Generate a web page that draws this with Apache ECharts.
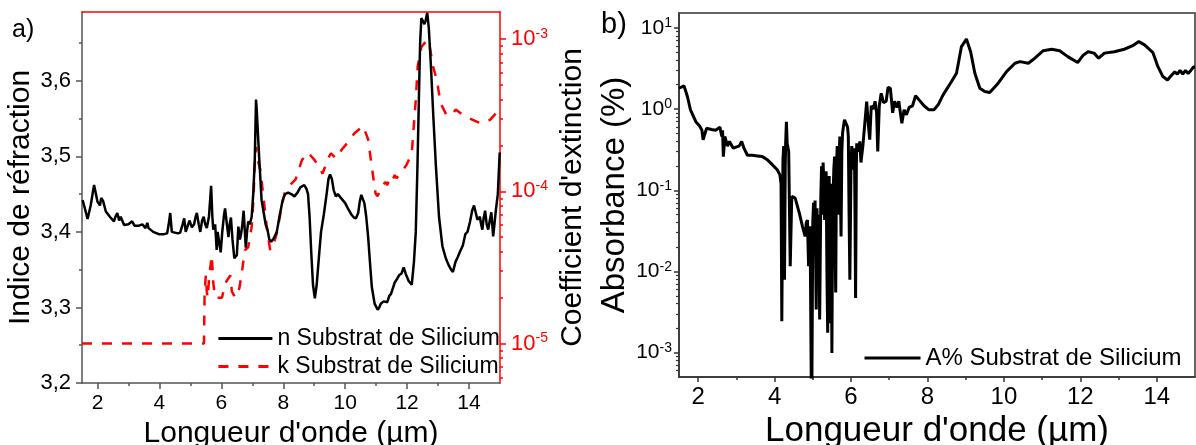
<!DOCTYPE html>
<html><head><meta charset="utf-8">
<script src="https://cdn.jsdelivr.net/npm/echarts@6/dist/echarts.min.js"></script>
<style>html,body{margin:0;padding:0;background:#fff}#c{width:1196px;height:445px}</style>
</head><body><div id="c"></div>
<script>
// ---- tick values and labels ----
const wavelengthTicks = [2, 4, 6, 8, 10, 12, 14];
const wavelengthMinorTicks = [3, 5, 7, 9, 11, 13];
const nTicks = [3.2, 3.3, 3.4, 3.5, 3.6];
const nTickLabels = ['3,2', '3,3', '3,4', '3,5', '3,6'];
const nMinorTicks = [3.25, 3.35, 3.45, 3.55, 3.65];
const kTicks = [1e-5, 1e-4, 1e-3];
const kTickExponents = ['-5', '-4', '-3'];
const aTicks = [1e-3, 1e-2, 1e-1, 1, 10];
const aTickExponents = ['-3', '-2', '-1', '0', '1'];

// ---- series names ----
const nName = 'n Substrat de Silicium';
const kName = 'k Substrat de Silicium';
const aName = 'A% Substrat de Silicium';

// ---- data: [wavelength (µm), value] ----
const nData = [[1.52,3.442],[1.60,3.43],[1.68,3.417],[1.78,3.435],[1.89,3.462],[1.95,3.45],[2.0,3.440],[2.08,3.435],[2.12,3.445],[2.18,3.441],[2.27,3.427],[2.4,3.42],[2.53,3.414],[2.58,3.42],[2.64,3.425],[2.7,3.415],[2.75,3.42],[2.86,3.409],[3.0,3.41],[3.12,3.414],[3.2,3.408],[3.32,3.408],[3.45,3.41],[3.55,3.405],[3.61,3.412],[3.65,3.405],[3.8,3.40],[3.98,3.397],[4.15,3.397],[4.25,3.398],[4.30,3.41],[4.35,3.425],[4.40,3.40],[4.46,3.398],[4.6,3.398],[4.67,3.399],[4.75,3.41],[4.80,3.418],[4.85,3.40],[4.89,3.398],[4.97,3.415],[5.05,3.406],[5.12,3.41],[5.17,3.42],[5.21,3.425],[5.27,3.41],[5.32,3.40],[5.38,3.415],[5.43,3.42],[5.48,3.41],[5.53,3.405],[5.6,3.42],[5.67,3.461],[5.71,3.42],[5.74,3.403],[5.80,3.41],[5.85,3.376],[5.88,3.40],[5.92,3.389],[5.98,3.373],[6.03,3.40],[6.08,3.42],[6.12,3.431],[6.18,3.41],[6.23,3.393],[6.27,3.41],[6.31,3.419],[6.36,3.39],[6.42,3.365],[6.5,3.369],[6.55,3.407],[6.6,3.39],[6.64,3.398],[6.68,3.41],[6.72,3.428],[6.76,3.40],[6.79,3.379],[6.83,3.40],[6.87,3.414],[6.92,3.41],[6.98,3.42],[7.03,3.45],[7.08,3.495],[7.12,3.575],[7.14,3.564],[7.17,3.565],[7.22,3.50],[7.30,3.442],[7.37,3.425],[7.43,3.41],[7.49,3.403],[7.55,3.39],[7.61,3.387],[7.7,3.392],[7.79,3.40],[7.9,3.425],[7.98,3.442],[8.06,3.45],[8.16,3.452],[8.26,3.45],[8.36,3.447],[8.46,3.452],[8.55,3.459],[8.68,3.462],[8.75,3.457],[8.8,3.45],[8.85,3.42],[8.9,3.376],[8.96,3.33],[9.02,3.312],[9.08,3.33],[9.15,3.366],[9.22,3.40],[9.31,3.423],[9.4,3.45],[9.46,3.47],[9.51,3.476],[9.57,3.47],[9.63,3.455],[9.7,3.447],[9.76,3.45],[9.82,3.448],[9.9,3.443],[10.0,3.438],[10.1,3.43],[10.2,3.423],[10.28,3.419],[10.35,3.418],[10.42,3.425],[10.47,3.44],[10.52,3.449],[10.57,3.447],[10.62,3.438],[10.68,3.42],[10.74,3.394],[10.8,3.36],[10.86,3.327],[10.95,3.305],[11.05,3.297],[11.1,3.30],[11.15,3.305],[11.2,3.303],[11.24,3.308],[11.3,3.31],[11.36,3.307],[11.42,3.315],[11.48,3.318],[11.52,3.316],[11.6,3.333],[11.68,3.338],[11.75,3.343],[11.82,3.345],[11.89,3.353],[11.95,3.345],[12.05,3.335],[12.15,3.33],[12.22,3.36],[12.28,3.40],[12.33,3.48],[12.38,3.575],[12.42,3.65],[12.46,3.683],[12.51,3.682],[12.56,3.675],[12.6,3.68],[12.65,3.69],[12.7,3.67],[12.77,3.619],[12.85,3.55],[12.93,3.487],[13.03,3.42],[13.14,3.381],[13.25,3.365],[13.33,3.357],[13.42,3.35],[13.48,3.347],[13.56,3.36],[13.64,3.367],[13.72,3.375],[13.8,3.382],[13.88,3.397],[13.95,3.40],[14.03,3.413],[14.1,3.428],[14.16,3.435],[14.22,3.425],[14.27,3.416],[14.31,3.418],[14.35,3.42],[14.39,3.41],[14.43,3.403],[14.47,3.418],[14.52,3.428],[14.57,3.41],[14.62,3.403],[14.67,3.415],[14.72,3.426],[14.75,3.41],[14.78,3.394],[14.82,3.41],[14.87,3.43],[14.93,3.45],[14.99,3.505]];

const kData = [[1.5,1e-5],[5.44,1e-5],[5.46,2.2e-5],[5.5,2.8e-5],[5.53,2.2e-5],[5.56,2.0e-5],[5.6,2.6e-5],[5.64,3.1e-5],[5.69,3.8e-5],[5.72,3.0e-5],[5.74,2.5e-5],[5.8,2.0e-5],[6.02,2.0e-5],[6.13,2.5e-5],[6.29,2.8e-5],[6.34,2.2e-5],[6.45,2.0e-5],[6.58,2.3e-5],[6.66,2.9e-5],[6.76,4.1e-5],[6.87,4.3e-5],[6.98,5.85e-5],[7.04,9e-5],[7.08,1.53e-4],[7.12,1.96e-4],[7.18,1.6e-4],[7.26,1.38e-4],[7.37,8.8e-5],[7.49,5.3e-5],[7.58,4.1e-5],[7.66,4.3e-5],[7.79,5.3e-5],[7.91,7.2e-5],[8.04,9.7e-5],[8.22,1.1e-4],[8.4,1.2e-4],[8.6,1.6e-4],[8.8,1.8e-4],[9.02,1.6e-4],[9.27,1.31e-4],[9.45,1.65e-4],[9.54,1.78e-4],[9.7,1.65e-4],[9.88,1.87e-4],[10.06,2.07e-4],[10.3,2.41e-4],[10.58,2.69e-4],[10.74,2.2e-4],[10.86,1.45e-4],[10.98,9.7e-5],[11.05,9.3e-5],[11.17,1.07e-4],[11.3,1.15e-4],[11.36,1.1e-4],[11.42,1.2e-4],[11.5,1.15e-4],[11.6,1.28e-4],[11.66,1.22e-4],[11.76,1.3e-4],[11.98,1.49e-4],[12.15,1.78e-4],[12.28,4.0e-4],[12.34,6.6e-4],[12.42,8.1e-4],[12.46,8.9e-4],[12.65,9.9e-4],[12.72,9.2e-4],[12.84,6.6e-4],[12.96,5.4e-4],[13.08,3.8e-4],[13.27,3.18e-4],[13.45,3.18e-4],[13.57,3.45e-4],[13.8,3.18e-4],[14.12,2.95e-4],[14.37,2.8e-4],[14.68,2.95e-4],[14.87,3.26e-4],[15.0,3.3e-4]];

const aData = [[1.5,1.81],[1.63,1.94],[1.72,1.43],[1.8,0.98],[1.94,0.70],[2.04,0.62],[2.1,0.55],[2.13,0.42],[2.18,0.5],[2.22,0.58],[2.35,0.56],[2.46,0.55],[2.57,0.6],[2.62,0.46],[2.64,0.55],[2.66,0.26],[2.7,0.46],[2.77,0.35],[2.82,0.4],[2.86,0.38],[2.92,0.33],[2.99,0.34],[3.07,0.35],[3.14,0.40],[3.2,0.33],[3.29,0.27],[3.42,0.27],[3.55,0.265],[3.68,0.26],[3.8,0.24],[3.9,0.216],[4.07,0.179],[4.14,0.155],[4.17,0.12],[4.19,0.00243],[4.22,0.24],[4.24,0.35],[4.26,0.0079],[4.28,0.2],[4.29,0.38],[4.31,0.70],[4.33,0.38],[4.35,0.4],[4.37,0.3],[4.41,0.0116],[4.45,0.084],[4.54,0.08],[4.65,0.052],[4.73,0.036],[4.8,0.027],[4.83,0.04],[4.86,0.043],[4.89,0.0116],[4.93,0.036],[4.97,0.0001],[5.0,0.04],[5.02,0.070],[5.04,0.02],[5.06,0.075],[5.09,0.0034],[5.11,0.06],[5.14,0.017],[5.16,0.05],[5.18,0.00255],[5.21,0.08],[5.23,0.197],[5.25,0.05],[5.27,0.22],[5.29,0.12],[5.31,0.043],[5.33,0.16],[5.35,0.17],[5.37,0.01],[5.39,0.00175],[5.41,0.1],[5.43,0.15],[5.445,0.01],[5.46,0.0023],[5.48,0.12],[5.5,0.00099],[5.515,0.02],[5.53,0.08],[5.55,0.18],[5.57,0.26],[5.585,0.02],[5.6,0.0055],[5.62,0.2],[5.64,0.35],[5.655,0.05],[5.67,0.15],[5.69,0.3],[5.71,0.46],[5.725,0.08],[5.74,0.027],[5.76,0.3],[5.78,0.51],[5.8,0.6],[5.83,0.74],[5.86,0.7],[5.88,0.78],[5.91,0.6],[5.93,0.46],[5.95,0.05],[5.97,0.0079],[6.0,0.2],[6.02,0.35],[6.06,0.18],[6.09,0.33],[6.105,0.05],[6.12,0.0047],[6.14,0.2],[6.15,0.38],[6.2,0.30],[6.23,0.4],[6.26,0.22],[6.31,0.35],[6.37,0.74],[6.41,1.24],[6.46,0.6],[6.49,0.42],[6.53,1.1],[6.58,1.0],[6.63,1.25],[6.67,0.9],[6.7,0.30],[6.74,1.1],[6.79,1.57],[6.85,1.2],[6.92,1.25],[6.97,1.86],[7.03,1.8],[7.09,0.9],[7.14,1.25],[7.2,1.05],[7.25,1.25],[7.33,0.67],[7.39,0.98],[7.45,0.85],[7.52,1.05],[7.61,1.1],[7.69,1.46],[7.78,1.3],[7.91,1.1],[8.04,0.98],[8.17,0.98],[8.28,1.13],[8.41,1.5],[8.63,2.19],[8.76,2.77],[8.89,5.9],[9.02,7.3],[9.13,5.1],[9.24,2.77],[9.37,1.81],[9.5,1.65],[9.63,1.60],[9.85,2.09],[10.07,2.9],[10.29,3.68],[10.42,3.85],[10.64,3.68],[10.81,4.24],[11.03,5.25],[11.25,5.47],[11.46,5.25],[11.67,4.44],[11.93,3.75],[12.07,4.6],[12.2,5.1],[12.36,4.9],[12.48,4.24],[12.63,4.9],[12.89,5.1],[13.15,5.47],[13.37,6.06],[13.53,6.8],[13.68,6.2],[13.9,4.97],[14.03,3.34],[14.16,2.52],[14.28,2.29],[14.38,2.6],[14.47,2.88],[14.54,2.7],[14.61,3.0],[14.68,2.7],[14.75,3.0],[14.82,2.75],[14.89,3.0],[14.96,3.3],[15.0,3.3]];

// minor ticks for log axes (2..9 x 10^n)
function logMinor(lo, hi) {
  const out = [];
  for (let e = -7; e <= 2; e++) for (let m = 2; m <= 9; m++) {
    const v = m * Math.pow(10, e);
    if (v > lo && v < hi) out.push(v);
  }
  return out;
}

const FONT = 'Liberation Sans, Arial, sans-serif';
const GRAY = '#555';
const RED = '#ff0000';

const kMin = 5.5e-6, kMax = 1.51e-3;
const aMin = 5e-4, aMax = 15.3;

function powLabel(ticks, exps) {
  return function (v) {
    const i = ticks.findIndex(t => Math.abs(Math.log10(t) - Math.log10(v)) < 1e-6);
    return i < 0 ? '' : '{b|10}{s|' + exps[i] + '}';
  };
}
function richSup(size, color) {
  return {
    b: { fontSize: size, color: color, fontFamily: FONT, lineHeight: size + 2 },
    s: { fontSize: Math.round(size * 0.65), color: color, fontFamily: FONT, verticalAlign: 'top', lineHeight: Math.round(size * 0.65) }
  };
}
function minorAxis(base) {
  return Object.assign({
    axisLine: { show: false },
    axisLabel: { show: false },
    splitLine: { show: false },
    name: ''
  }, base);
}

const chart = echarts.init(document.getElementById('c'), null, { renderer: 'canvas' });
chart.setOption({
  animation: false,
  backgroundColor: '#fff',
  textStyle: { fontFamily: FONT },
  grid: [
    { left: 82, top: 12, width: 418, height: 371, containLabel: false, outerBoundsMode: 'none' },
    { left: 679, top: 13, width: 516, height: 364, show: true, borderColor: '#333', borderWidth: 1.5, containLabel: false, outerBoundsMode: 'none' }
  ],
  xAxis: [
    { gridIndex: 0, type: 'value', min: 1.5, max: 15, position: 'bottom',
      axisLine: { lineStyle: { color: GRAY, width: 1.5 } },
      axisTick: { customValues: wavelengthTicks, length: 6, lineStyle: { color: GRAY, width: 1.5 } },
      axisLabel: { customValues: wavelengthTicks, fontSize: 21, color: '#000', margin: 10, fontFamily: FONT },
      splitLine: { show: false },
      name: "Longueur d'onde (µm)", nameLocation: 'middle', nameGap: 33,
      nameTextStyle: { fontSize: 30, color: '#000', fontFamily: FONT } },
    minorAxis({ gridIndex: 0, type: 'value', min: 1.5, max: 15, position: 'bottom',
      axisTick: { customValues: wavelengthMinorTicks, length: 3, lineStyle: { color: GRAY, width: 1.5 } } }),
    { gridIndex: 1, type: 'value', min: 1.5, max: 15, position: 'bottom',
      axisLine: { lineStyle: { color: '#333', width: 1.5 } },
      axisTick: { customValues: wavelengthTicks, length: 5, lineStyle: { color: '#333', width: 1.5 } },
      axisLabel: { customValues: wavelengthTicks, fontSize: 24, color: '#000', margin: 8, fontFamily: FONT },
      splitLine: { show: false },
      name: "Longueur d'onde (µm)", nameLocation: 'middle', nameGap: 30,
      nameTextStyle: { fontSize: 35, color: '#000', fontFamily: FONT } },
    minorAxis({ gridIndex: 1, type: 'value', min: 1.5, max: 15, position: 'bottom',
      axisTick: { customValues: wavelengthMinorTicks, length: 3, lineStyle: { color: '#333', width: 1.5 } } }),
    { gridIndex: 0, type: 'value', min: 1.5, max: 15, position: 'top',
      axisLine: { show: true, lineStyle: { color: RED, width: 1.5 } },
      axisTick: { show: false }, axisLabel: { show: false }, splitLine: { show: false } }
  ],
  yAxis: [
    { gridIndex: 0, type: 'value', min: 3.2, max: 3.691, position: 'left',
      axisLine: { show: true, lineStyle: { color: GRAY, width: 1.5 } },
      axisTick: { show: true, customValues: nTicks, length: 6, lineStyle: { color: GRAY, width: 1.5 } },
      axisLabel: { customValues: nTicks, fontSize: 22, color: '#000', margin: 11, fontFamily: FONT,
        formatter: v => { const i = nTicks.findIndex(t => Math.abs(t - v) < 1e-9); return i < 0 ? '' : nTickLabels[i]; } },
      splitLine: { show: false },
      name: 'Indice de réfraction', nameLocation: 'middle', nameGap: 46,
      nameTextStyle: { fontSize: 30, color: '#000', fontFamily: FONT } },
    minorAxis({ gridIndex: 0, type: 'value', min: 3.2, max: 3.691, position: 'left',
      axisTick: { show: true, customValues: nMinorTicks, length: 3, lineStyle: { color: GRAY, width: 1.5 } } }),
    { gridIndex: 0, type: 'log', min: kMin, max: kMax, position: 'right',
      axisLine: { show: true, lineStyle: { color: RED, width: 1.5 } },
      axisTick: { show: true, customValues: kTicks, length: 6, lineStyle: { color: RED, width: 1.5 } },
      axisLabel: { customValues: kTicks, color: RED, margin: 11, formatter: powLabel(kTicks, kTickExponents), rich: richSup(22, RED) },
      splitLine: { show: false },
      name: "Coefficient d'extinction", nameLocation: 'middle', nameGap: 58,
      nameTextStyle: { fontSize: 30, color: '#000', fontFamily: FONT } },
    minorAxis({ gridIndex: 0, type: 'log', min: kMin, max: kMax, position: 'right',
      axisTick: { show: true, customValues: logMinor(kMin, kMax), length: 3, lineStyle: { color: RED, width: 1.5 } } }),
    { gridIndex: 1, type: 'log', min: aMin, max: aMax, position: 'left',
      axisLine: { show: true, lineStyle: { color: '#333', width: 1.5 } },
      axisTick: { show: true, customValues: aTicks, length: 5, lineStyle: { color: '#333', width: 1.5 } },
      axisLabel: { customValues: aTicks, color: '#000', margin: 7, formatter: powLabel(aTicks, aTickExponents), rich: richSup(21, '#000') },
      splitLine: { show: false },
      name: 'Absorbance (%)', nameLocation: 'middle', nameGap: 48,
      nameTextStyle: { fontSize: 33, color: '#000', fontFamily: FONT } },
    minorAxis({ gridIndex: 1, type: 'log', min: aMin, max: aMax, position: 'left',
      axisTick: { show: true, customValues: logMinor(aMin, aMax), length: 3, lineStyle: { color: '#333', width: 1.2 } } })
  ],
  legend: [
    { data: [nName, kName], orient: 'vertical', left: 212, top: 322, itemWidth: 54, itemHeight: 14, itemGap: 5,
      selectedMode: false, itemStyle: { opacity: 0 }, lineStyle: { width: 2.8 },
      textStyle: { fontSize: 23, color: '#000', fontFamily: FONT } },
    { data: [aName], orient: 'vertical', left: 858, top: 341, itemWidth: 56, itemHeight: 14,
      selectedMode: false, itemStyle: { opacity: 0 }, lineStyle: { width: 3 },
      textStyle: { fontSize: 24, color: '#000', fontFamily: FONT } }
  ],
  graphic: [
    { type: 'text', left: 12, top: 18, style: { text: 'a)', fontSize: 25, fill: '#000', fontFamily: FONT } },
    { type: 'text', left: 601, top: 10, style: { text: 'b)', fontSize: 29, fill: '#000', fontFamily: FONT } }
  ],
  series: [
    { name: kName, type: 'line', xAxisIndex: 0, yAxisIndex: 2, data: kData, symbol: 'none', showSymbol: false,
      color: RED, lineStyle: { color: RED, width: 2.5, type: [10, 10] }, z: 2 },
    { name: nName, type: 'line', xAxisIndex: 0, yAxisIndex: 0, data: nData, symbol: 'none', showSymbol: false,
      color: '#000', lineStyle: { color: '#000', width: 2.5 }, z: 3 },
    { name: aName, type: 'line', xAxisIndex: 2, yAxisIndex: 4, data: aData, symbol: 'none', showSymbol: false,
      color: '#000', lineStyle: { color: '#000', width: 3 }, z: 3 }
  ]
});
</script>
</body></html>
